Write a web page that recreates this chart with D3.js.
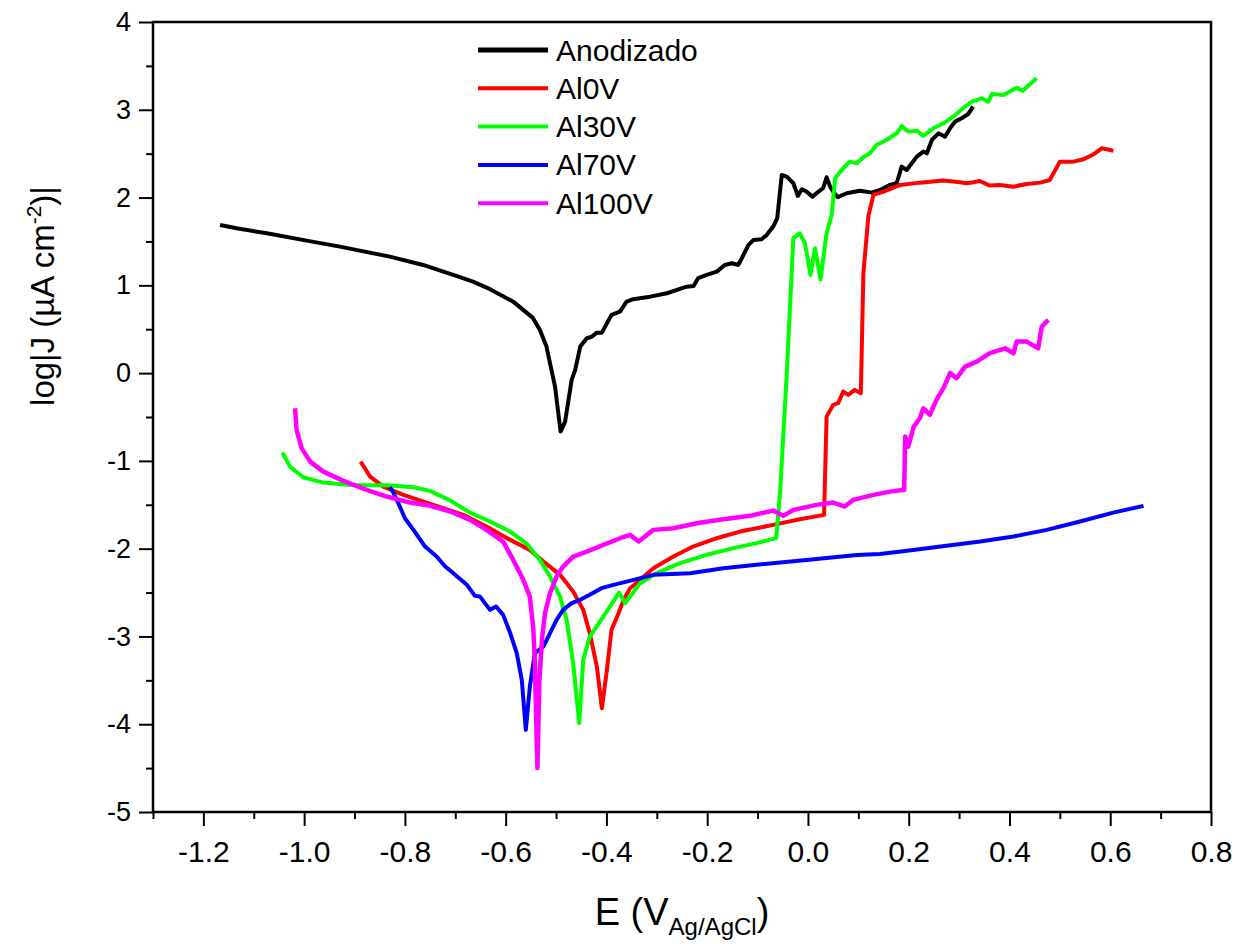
<!DOCTYPE html>
<html>
<head>
<meta charset="utf-8">
<script src="https://cdn.jsdelivr.net/npm/d3@7/dist/d3.min.js"></script>
<style>
  body { margin: 0; background: #fff; }
  svg text { font-family: "Liberation Sans", Arial, sans-serif; fill: #000; }
</style>
</head>
<body>
<svg id="chart" width="1248" height="944"></svg>
<script>
// Tafel curves, E in V vs Ag/AgCl, log|J| in uA cm^-2
const anodizadoE = [-1.167,-1.134,-1.074,-0.995,-0.929,-0.830,-0.764,-0.698,-0.665,-0.631,-0.585,-0.546,-0.532,-0.519,-0.502,-0.491,-0.482,-0.469,-0.462,-0.452,-0.439,-0.429,-0.419,-0.409,-0.390,-0.373,-0.360,-0.347,-0.313,-0.280,-0.260,-0.241,-0.227,-0.218,-0.201,-0.181,-0.165,-0.151,-0.138,-0.128,-0.118,-0.108,-0.092,-0.082,-0.069,-0.061,-0.052,-0.042,-0.029,-0.020,-0.012,-0.003,0.009,0.021,0.030,0.037,0.044,0.050,0.059,0.077,0.103,0.127,0.143,0.163,0.176,0.186,0.196,0.216,0.229,0.236,0.246,0.259,0.272,0.282,0.292,0.305,0.318,0.328];
const anodizadoJ = [1.688,1.650,1.593,1.509,1.441,1.327,1.232,1.107,1.042,0.956,0.814,0.629,0.49,0.302,-0.154,-0.666,-0.552,-0.077,0.036,0.302,0.397,0.416,0.461,0.461,0.663,0.70,0.814,0.842,0.871,0.91,0.948,0.985,0.993,1.081,1.118,1.156,1.232,1.252,1.232,1.346,1.46,1.517,1.525,1.574,1.669,1.764,2.257,2.238,2.163,2.018,2.094,2.068,2.011,2.068,2.106,2.231,2.124,2.068,2.004,2.049,2.078,2.056,2.087,2.144,2.163,2.352,2.314,2.466,2.523,2.504,2.656,2.732,2.694,2.789,2.865,2.903,2.952,3.035];

const al0vE = [-0.888,-0.869,-0.843,-0.803,-0.763,-0.724,-0.684,-0.638,-0.591,-0.552,-0.525,-0.492,-0.466,-0.446,-0.433,-0.419,-0.409,-0.399,-0.390,-0.376,-0.366,-0.353,-0.333,-0.307,-0.267,-0.228,-0.181,-0.135,-0.069,-0.016,0.032,0.037,0.050,0.060,0.070,0.080,0.093,0.105,0.110,0.120,0.130,0.150,0.183,0.222,0.269,0.302,0.315,0.328,0.341,0.361,0.381,0.408,0.434,0.461,0.480,0.500,0.527,0.547,0.567,0.583,0.600,0.606];
const al0vJ = [-1.008,-1.179,-1.293,-1.387,-1.463,-1.539,-1.615,-1.748,-1.90,-2.014,-2.147,-2.298,-2.488,-2.697,-2.962,-3.343,-3.817,-3.38,-2.925,-2.735,-2.583,-2.45,-2.355,-2.222,-2.09,-1.976,-1.881,-1.805,-1.729,-1.664,-1.615,-0.496,-0.362,-0.343,-0.21,-0.248,-0.191,-0.229,1.138,1.792,2.03,2.068,2.144,2.17,2.193,2.174,2.163,2.174,2.189,2.136,2.144,2.124,2.155,2.17,2.2,2.409,2.409,2.436,2.493,2.561,2.542,2.53];

const al30vE = [-1.043,-1.028,-1.002,-0.962,-0.902,-0.836,-0.783,-0.750,-0.710,-0.671,-0.631,-0.591,-0.558,-0.532,-0.512,-0.492,-0.479,-0.466,-0.454,-0.446,-0.433,-0.413,-0.393,-0.375,-0.363,-0.333,-0.300,-0.254,-0.201,-0.148,-0.102,-0.063,-0.055,-0.042,-0.029,-0.016,-0.006,0.005,0.014,0.025,0.037,0.047,0.054,0.070,0.083,0.097,0.110,0.123,0.136,0.156,0.176,0.186,0.199,0.216,0.229,0.249,0.269,0.288,0.308,0.325,0.345,0.358,0.365,0.388,0.414,0.426,0.454];
const al30vJ = [-0.905,-1.065,-1.186,-1.247,-1.277,-1.277,-1.30,-1.342,-1.452,-1.589,-1.691,-1.805,-1.945,-2.128,-2.318,-2.546,-2.811,-3.304,-3.988,-3.266,-3.001,-2.830,-2.659,-2.5,-2.621,-2.393,-2.279,-2.165,-2.07,-1.994,-1.937,-1.88,-1.33,0.0,1.537,1.593,1.479,1.118,1.423,1.069,1.593,1.802,2.22,2.334,2.409,2.39,2.459,2.504,2.599,2.656,2.732,2.815,2.751,2.762,2.702,2.789,2.846,2.921,3.017,3.092,3.131,3.092,3.18,3.169,3.252,3.218,3.359];

const al70vE = [-0.830,-0.824,-0.813,-0.800,-0.783,-0.760,-0.737,-0.720,-0.704,-0.677,-0.661,-0.651,-0.631,-0.619,-0.605,-0.591,-0.578,-0.568,-0.560,-0.552,-0.542,-0.525,-0.512,-0.499,-0.486,-0.469,-0.452,-0.433,-0.410,-0.386,-0.360,-0.307,-0.234,-0.168,-0.102,-0.003,0.097,0.143,0.209,0.275,0.342,0.408,0.474,0.540,0.606,0.666];
const al70vJ = [-1.30,-1.35,-1.482,-1.653,-1.786,-1.976,-2.09,-2.204,-2.279,-2.412,-2.538,-2.546,-2.697,-2.659,-2.754,-2.962,-3.19,-3.494,-4.064,-3.57,-3.19,-3.115,-2.962,-2.811,-2.697,-2.621,-2.583,-2.526,-2.45,-2.412,-2.375,-2.298,-2.279,-2.222,-2.184,-2.128,-2.071,-2.060,-2.014,-1.968,-1.919,-1.862,-1.786,-1.691,-1.589,-1.512];

const al100vE = [-1.018,-1.015,-1.005,-0.988,-0.962,-0.922,-0.876,-0.836,-0.790,-0.750,-0.710,-0.671,-0.638,-0.605,-0.585,-0.565,-0.552,-0.545,-0.542,-0.537,-0.533,-0.528,-0.522,-0.512,-0.499,-0.486,-0.466,-0.439,-0.406,-0.373,-0.353,-0.336,-0.307,-0.267,-0.221,-0.168,-0.115,-0.069,-0.049,-0.029,0.017,0.050,0.073,0.090,0.130,0.163,0.191,0.193,0.199,0.210,0.222,0.229,0.242,0.255,0.269,0.282,0.295,0.312,0.335,0.361,0.391,0.408,0.414,0.434,0.457,0.464,0.477];
const al100vJ = [-0.40,-0.647,-0.855,-1.008,-1.122,-1.228,-1.33,-1.406,-1.475,-1.512,-1.577,-1.672,-1.786,-1.919,-2.128,-2.355,-2.546,-2.925,-3.304,-4.50,-3.494,-3.039,-2.735,-2.507,-2.318,-2.204,-2.09,-2.033,-1.957,-1.881,-1.843,-1.919,-1.786,-1.767,-1.71,-1.664,-1.626,-1.566,-1.626,-1.558,-1.501,-1.475,-1.52,-1.444,-1.387,-1.35,-1.33,-0.723,-0.837,-0.609,-0.514,-0.40,-0.476,-0.305,-0.172,0.001,-0.058,0.074,0.131,0.227,0.283,0.227,0.359,0.359,0.283,0.53,0.606];

const seriesNames = ["Anodizado", "Al0V", "Al30V", "Al70V", "Al100V"];
const seriesColors = ["#000000", "#ff0000", "#00ff00", "#0000ff", "#ff00ff"];
const xTicks = [-1.2, -1.0, -0.8, -0.6, -0.4, -0.2, 0.0, 0.2, 0.4, 0.6, 0.8];
const xMinor = [-1.3, -1.1, -0.9, -0.7, -0.5, -0.3, -0.1, 0.1, 0.3, 0.5, 0.7];
const yTicks = [-5, -4, -3, -2, -1, 0, 1, 2, 3, 4];
const yMinor = [-4.5, -3.5, -2.5, -1.5, -0.5, 0.5, 1.5, 2.5, 3.5];

const seriesData = [
  d3.zip(anodizadoE, anodizadoJ),
  d3.zip(al0vE, al0vJ),
  d3.zip(al30vE, al30vJ),
  d3.zip(al70vE, al70vJ),
  d3.zip(al100vE, al100vJ)
];

const svg = d3.select("#chart");
const plotLeft = 153, plotRight = 1211, plotTop = 22, plotBottom = 812;

const x = d3.scaleLinear().domain([-1.3, 0.8]).range([plotLeft, plotRight]);
const y = d3.scaleLinear().domain([-5, 4]).range([plotBottom, plotTop]);

// curves (drawn first, frame on top)
const line = d3.line().x(d => x(d[0])).y(d => y(d[1]));
seriesData.forEach((data, i) => {
  svg.append("path")
    .datum(data)
    .attr("fill", "none")
    .attr("stroke", seriesColors[i])
    .attr("stroke-width", i === 4 ? 4.5 : 4)
    .attr("stroke-linejoin", "round")
    .attr("d", line);
});

// axes
const xAxis = svg.append("g")
  .attr("transform", "translate(0," + plotBottom + ")")
  .call(d3.axisBottom(x).tickValues(xTicks).tickSize(14).tickPadding(15)
    .tickFormat(d => d.toFixed(1)));
const xAxisMinor = svg.append("g")
  .attr("transform", "translate(0," + plotBottom + ")")
  .call(d3.axisBottom(x).tickValues(xMinor).tickSize(7).tickFormat(""));
const yAxis = svg.append("g")
  .attr("transform", "translate(" + plotLeft + ",0)")
  .call(d3.axisLeft(y).tickValues(yTicks).tickSize(14).tickPadding(8)
    .tickFormat(d => String(d)));
const yAxisMinor = svg.append("g")
  .attr("transform", "translate(" + plotLeft + ",0)")
  .call(d3.axisLeft(y).tickValues(yMinor).tickSize(7).tickFormat(""));

[xAxis, xAxisMinor, yAxis, yAxisMinor].forEach(g => {
  g.select(".domain").remove();
  g.selectAll(".tick line").attr("stroke", "#000").attr("stroke-width", 2);
});
xAxis.selectAll("text").attr("font-size", 30).attr("font-family", "Liberation Sans, Arial, sans-serif");
yAxis.selectAll("text").attr("font-size", 27).attr("font-family", "Liberation Sans, Arial, sans-serif");

svg.append("rect")
  .attr("x", plotLeft).attr("y", plotTop)
  .attr("width", plotRight - plotLeft).attr("height", plotBottom - plotTop)
  .attr("fill", "none").attr("stroke", "#000").attr("stroke-width", 2.5);

// axis titles
const xt = svg.append("text")
  .attr("x", 682).attr("y", 925)
  .attr("text-anchor", "middle")
  .attr("font-size", 38);
xt.append("tspan").text("E (V");
xt.append("tspan").attr("font-size", 24).attr("dy", 10).text("Ag/AgCl");
xt.append("tspan").attr("dy", -10).text(")");

const yt = svg.append("text")
  .attr("transform", "translate(54,296) rotate(-90)")
  .attr("text-anchor", "middle")
  .attr("font-size", 33);
yt.append("tspan").text("log|J (\u00b5A cm");
yt.append("tspan").attr("font-size", 21).attr("dy", -13).text("-2");
yt.append("tspan").attr("dy", 13).text(")|");

// legend
const legend = svg.append("g");
seriesNames.forEach((name, i) => {
  const ly = 50 + i * 38.3;
  legend.append("line")
    .attr("x1", 478).attr("x2", 548)
    .attr("y1", ly).attr("y2", ly)
    .attr("stroke", seriesColors[i])
    .attr("stroke-width", i === 0 ? 5 : 4);
  legend.append("text")
    .attr("x", 556).attr("y", ly)
    .attr("dominant-baseline", "central")
    .attr("font-size", 30)
    .text(name);
});
</script>
</body>
</html>
